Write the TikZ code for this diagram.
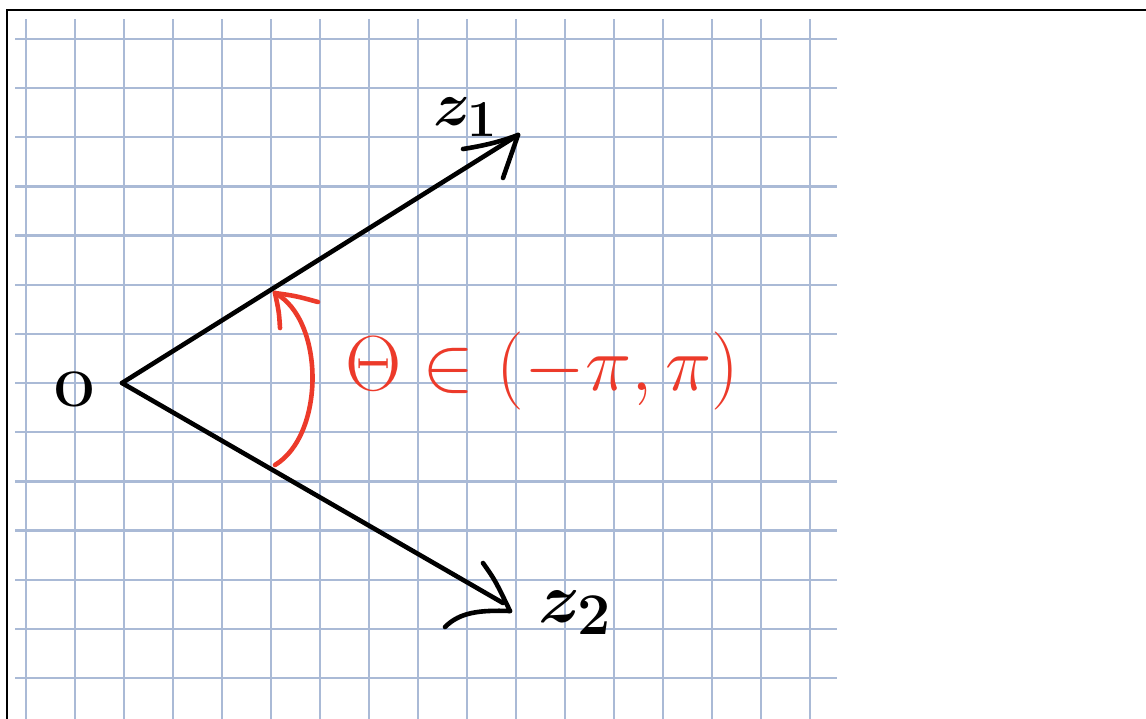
\documentclass[tikz,border=0pt]{standalone}
\definecolor{gridblue}{RGB}{170,186,214}
\definecolor{penred}{RGB}{236,58,42}
\tikzset{
  gridline/.style={draw=gridblue, line width=2.3pt},
  penblack/.style={draw=black, line width=4.6pt, line cap=round, line join=round},
  penredline/.style={draw=penred, line width=4.6pt, line cap=round, line join=round},
  handlabel/.style={inner sep=0pt, outer sep=0pt}
}
\begin{document}
\begin{tikzpicture}[x=1pt,y=-1pt]
\useasboundingbox (0,0) rectangle (1146,718);
% frame
\draw[line width=1.5pt] (7,724) -- (7,10) -- (1152,10);
% grid
\foreach \k in {0,...,16} {
  \draw[gridline] ({26+49*\k},19) -- ({26+49*\k},720);
}
\foreach \k in {0,...,13} {
  \draw[gridline] (15,{39+49.15*\k}) -- (837,{39+49.15*\k});
}
% coordinates
\coordinate (o) at (122,383);
\coordinate (t1) at (518,135);
\coordinate (a1) at (463,149);
\coordinate (b1) at (503,178);
\coordinate (e2) at (503,603);
\coordinate (t2) at (510,611);
\coordinate (a2) at (483,563);
\coordinate (b2) at (445,627);
\coordinate (r0) at (275,465);
\coordinate (r1) at (275,293);
\coordinate (ra) at (280,328);
\coordinate (rb) at (318,302);
% vectors
\draw[penblack] (o) -- (t1);
\draw[penblack] (a1) .. controls (482,146) and (500,142) .. (t1);
\draw[penblack] (b1) -- (t1);
\draw[penblack] (o) -- (e2);
\draw[penblack] (a2) .. controls (495,580) .. (t2);
\draw[penblack] (b2) .. controls (460,612) and (480,610) .. (t2);
% angle arc
\draw[penredline] (r0) .. controls (325,435) and (325,320) .. (r1);
\draw[penredline] (ra) .. controls (279,312) .. (r1);
\draw[penredline] (r1) .. controls (296,296) .. (rb);
% labels
\node[handlabel, anchor=base] (olabel) at (75,406) {\scalebox{2.0}{\Huge\bfseries O}};
\node[handlabel, anchor=base west] (z1label) at (433,125) {\scalebox{2.5}{\Huge\boldmath $z_{\scriptstyle 1}$}};
\node[handlabel, anchor=base west] (z2label) at (538,622) {\scalebox{2.85}{\Huge\boldmath $z_2$}};
\node[handlabel, anchor=base west, text=penred] (theta) at (345,390) {\scalebox{3.14}{\Huge $\Theta \in (-\pi, \pi)$}};
\end{tikzpicture}
\end{document}
